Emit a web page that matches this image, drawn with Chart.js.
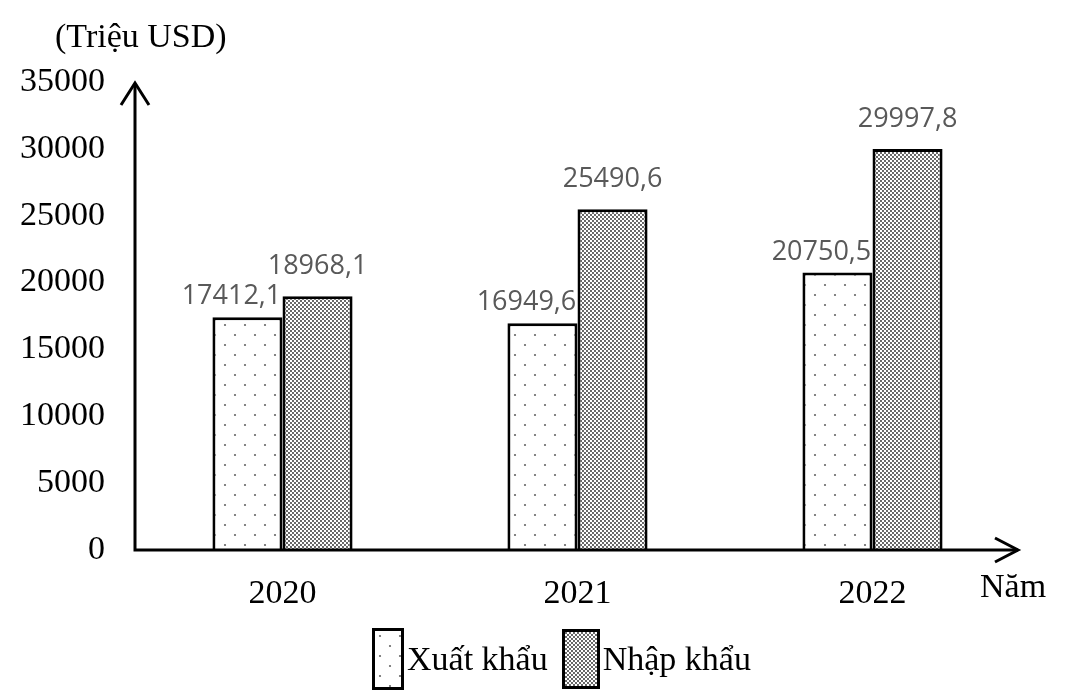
<!DOCTYPE html>
<html>
<head>
<meta charset="utf-8">
<script src="https://cdn.jsdelivr.net/npm/chart.js@4.4.1/dist/chart.umd.min.js"></script>
<style>
  body { margin: 0; background: #fff; }
  #wrap { position: relative; width: 1065px; height: 693px; }
  #legend {
    position: absolute; left: 372px; top: 628px;
    display: flex; align-items: center;
    font-family: "Liberation Serif", serif; font-size: 34px; color: #000;
  }
  .sw { width: 26px; height: 56px; border: 3px solid #000; margin-right: 3px; }
  #sw2 { width: 32px; height: 54px; }
  .item { display: flex; align-items: center; margin-right: 14px; }
</style>
</head>
<body>
<div id="wrap">
  <canvas id="chart" width="1065" height="693"></canvas>
  <div id="legend">
    <div class="item"><div class="sw" id="sw1"></div><span>Xuất khẩu</span></div>
    <div class="item"><div class="sw" id="sw2"></div><span>Nhập khẩu</span></div>
  </div>
</div>
<script>
const years = ["2020", "2021", "2022"];
const xuatKhau = [17412.1, 16949.6, 20750.5];
const nhapKhau = [18968.1, 25490.6, 29997.8];
const yMax = 35000;
const yStep = 5000;

// dot patterns like the printed chart
function makeTile(size, dots, r, color) {
  const c = document.createElement("canvas");
  c.width = size; c.height = size;
  const g = c.getContext("2d");
  g.fillStyle = "#fff";
  g.fillRect(0, 0, size, size);
  g.fillStyle = color;
  dots.forEach(function (d) {
    g.beginPath();
    g.arc(d[0], d[1], r, 0, Math.PI * 2);
    g.fill();
  });
  return c;
}
const sparseTile = makeTile(20, [[5, 5], [15, 15]], 1.1, "#666");
const denseTile = makeTile(4, [[1, 1], [3, 3]], 0.9, "#222");

const ctx = document.getElementById("chart").getContext("2d");
const sparsePattern = ctx.createPattern(sparseTile, "repeat");
const densePattern = ctx.createPattern(denseTile, "repeat");

document.getElementById("sw1").style.background = "url(" + sparseTile.toDataURL() + ")";
document.getElementById("sw2").style.background = "url(" + denseTile.toDataURL() + ")";

const serif = "'Liberation Serif', 'Times New Roman', serif";

// axes with arrows + free texts
const axesPlugin = {
  id: "axesArrows",
  afterDatasetsDraw: function (chart) {
    const a = chart.chartArea;
    const c = chart.ctx;
    c.save();
    c.strokeStyle = "#000";
    c.lineWidth = 3;
    c.lineCap = "butt";
    c.beginPath();
    c.moveTo(a.left, a.bottom + 1.5);
    c.lineTo(a.left, a.top + 2);
    c.moveTo(a.left - 1.5, a.bottom);
    c.lineTo(a.right - 2, a.bottom);
    c.stroke();
    c.beginPath();
    c.moveTo(a.left - 14, a.top + 23);
    c.lineTo(a.left, a.top + 1);
    c.lineTo(a.left + 14, a.top + 23);
    c.moveTo(a.right - 25, a.bottom - 12);
    c.lineTo(a.right - 2, a.bottom);
    c.lineTo(a.right - 25, a.bottom + 12);
    c.stroke();

    c.fillStyle = "#000";
    c.font = "34px " + serif;
    c.textBaseline = "middle";
    c.textAlign = "left";
    c.fillText("(Triệu USD)", 55, 38);
    c.fillText("Năm", 980, 588);
    c.restore();
  },
};

// value labels above bars
const labelPlugin = {
  id: "barValues",
  afterDatasetsDraw: function (chart) {
    const c = chart.ctx;
    c.save();
    c.font = "27px 'Open Sans', sans-serif";
    c.fillStyle = "#595959";
    c.textAlign = "center";
    c.textBaseline = "alphabetic";
    chart.data.datasets.forEach(function (ds, i) {
      const meta = chart.getDatasetMeta(i);
      meta.data.forEach(function (bar, j) {
        const txt = ds.data[j].toFixed(1).replace(".", ",");
        c.fillText(txt, bar.x + ds.labelDx, bar.y - ds.labelDy);
      });
    });
    c.restore();
  },
};

new Chart(ctx, {
  type: "bar",
  data: {
    labels: years,
    datasets: [
      {
        label: "Xuất khẩu",
        data: xuatKhau,
        backgroundColor: sparsePattern,
        borderColor: "#000",
        borderWidth: 3,
        labelDx: -16,
        labelDy: 13,
      },
      {
        label: "Nhập khẩu",
        data: nhapKhau,
        backgroundColor: densePattern,
        borderColor: "#000",
        borderWidth: 3,
        labelDx: 0,
        labelDy: 22,
      },
    ],
  },
  options: {
    responsive: false,
    animation: false,
    layout: { padding: { top: 82, right: 45, bottom: 0, left: 0 } },
    datasets: {
      bar: { categoryPercentage: 0.475, barPercentage: 1.0 },
    },
    plugins: {
      legend: { display: false },
      tooltip: { enabled: false },
    },
    scales: {
      x: {
        grid: { display: false, drawTicks: false },
        border: { display: false },
        ticks: {
          color: "#000",
          font: { family: serif, size: 34 },
          padding: 24,
        },
        afterFit: function (scale) {
          scale.height = 143;
        },
      },
      y: {
        min: 0,
        max: yMax,
        grid: { display: false, drawTicks: false },
        border: { display: false },
        ticks: {
          stepSize: yStep,
          color: "#000",
          font: { family: serif, size: 34 },
          padding: 30,
          callback: function (v) {
            return String(v);
          },
        },
        afterFit: function (scale) {
          scale.width = 135;
        },
      },
    },
  },
  plugins: [axesPlugin, labelPlugin],
});
</script>
</body>
</html>
